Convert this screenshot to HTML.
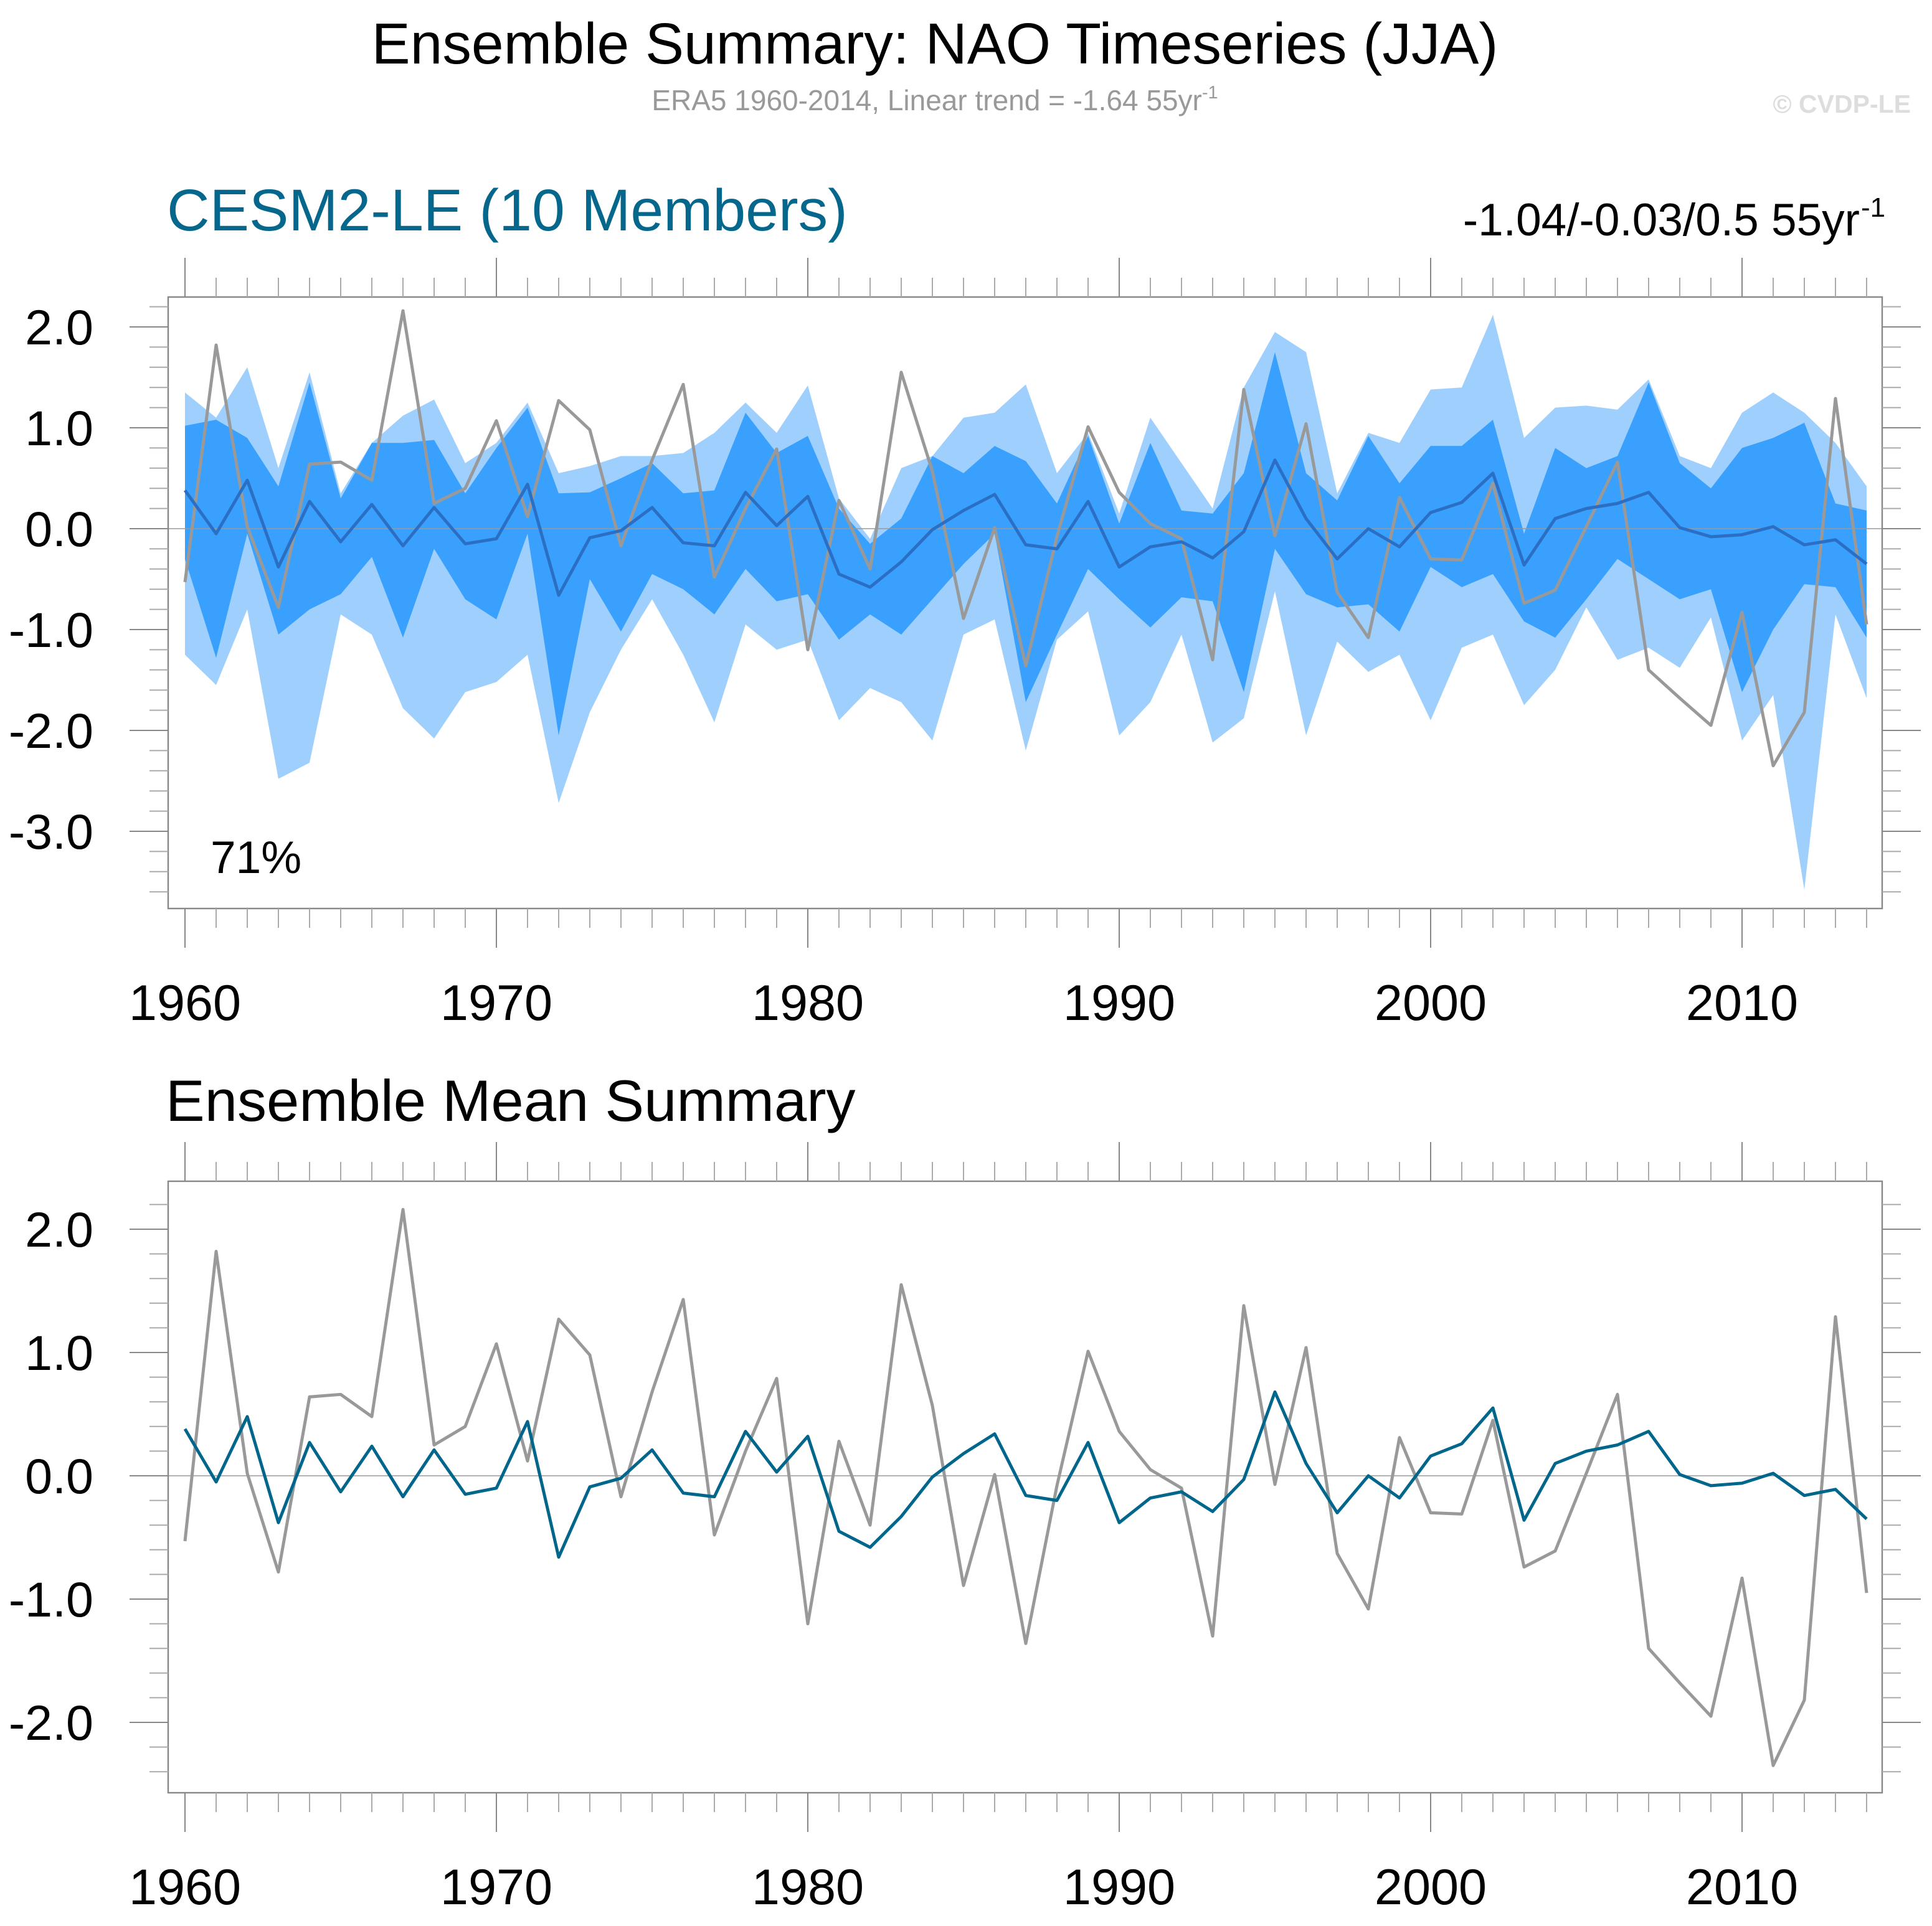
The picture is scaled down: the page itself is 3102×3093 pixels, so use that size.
<!DOCTYPE html>
<html><head><meta charset="utf-8"><style>
html,body{margin:0;padding:0;background:#fff;}
svg{display:block;font-family:"Liberation Sans",sans-serif;}
</style></head><body>
<svg id="chart" width="3102" height="3093" viewBox="0 0 3102 3093" xmlns="http://www.w3.org/2000/svg">
<text x="1501" y="102" font-size="93" text-anchor="middle" fill="#000">Ensemble Summary: NAO Timeseries (JJA)</text>
<text x="1501" y="177" font-size="46" text-anchor="middle" fill="#999">ERA5 1960-2014, Linear trend = -1.64 55yr<tspan font-size="29" dy="-19">-1</tspan></text>
<text x="3068" y="181" font-size="41" font-weight="bold" text-anchor="end" fill="#ddd">© CVDP-LE</text>
<text x="268" y="370" font-size="95" fill="#06678c">CESM2-LE (10 Members)</text>
<text x="2986" y="378" font-size="73" text-anchor="end" fill="#000">-1.04/-0.03/0.5 55yr</text>
<text x="2988" y="348" font-size="44" fill="#000">-1</text>
<text x="266" y="1800" font-size="94" fill="#000">Ensemble Mean Summary</text>
<g id="top"></g>
<g id="bot"></g>
</svg>
<script>
const years = [];for(let y=1960;y<=2014;y++)years.push(y);
const era5 = [-0.53,1.82,0.02,-0.78,0.64,0.66,0.48,2.16,0.25,0.40,1.07,0.12,1.27,0.98,-0.17,0.68,1.43,-0.48,0.20,0.79,-1.20,0.28,-0.40,1.55,0.57,-0.89,0.01,-1.36,-0.08,1.01,0.36,0.05,-0.10,-1.30,1.38,-0.07,1.04,-0.63,-1.08,0.31,-0.30,-0.31,0.45,-0.74,-0.61,0.02,0.66,-1.40,-1.68,-1.95,-0.83,-2.35,-1.82,1.29,-0.95];
const ensMean = [0.38,-0.05,0.48,-0.38,0.27,-0.13,0.24,-0.17,0.21,-0.15,-0.10,0.44,-0.66,-0.09,-0.02,0.21,-0.14,-0.17,0.36,0.03,0.32,-0.45,-0.58,-0.33,-0.01,0.18,0.34,-0.16,-0.20,0.27,-0.38,-0.18,-0.13,-0.29,-0.03,0.68,0.10,-0.30,0.00,-0.18,0.16,0.26,0.55,-0.36,0.10,0.20,0.25,0.36,0.01,-0.08,-0.06,0.02,-0.16,-0.11,-0.35];
const outerMax = [1.35,1.10,1.60,0.60,1.55,0.35,0.85,1.12,1.28,0.65,0.85,1.25,0.55,0.62,0.72,0.72,0.75,0.95,1.25,0.95,1.42,0.30,-0.10,0.60,0.72,1.10,1.15,1.43,0.55,0.95,0.15,1.10,0.65,0.20,1.40,1.95,1.75,0.35,0.95,0.85,1.38,1.40,2.12,0.90,1.20,1.22,1.18,1.48,0.72,0.60,1.15,1.35,1.15,0.85,0.42];
const innerMax = [1.02,1.08,0.90,0.42,1.45,0.30,0.85,0.85,0.88,0.35,0.80,1.20,0.35,0.36,0.50,0.65,0.35,0.38,1.15,0.75,0.92,0.20,-0.15,0.10,0.72,0.55,0.82,0.67,0.25,0.92,0.05,0.85,0.18,0.15,0.55,1.75,0.55,0.28,0.92,0.45,0.82,0.82,1.08,-0.05,0.80,0.60,0.72,1.45,0.65,0.40,0.80,0.90,1.05,0.25,0.18];
const innerMin = [-0.30,-1.28,-0.05,-1.05,-0.80,-0.65,-0.28,-1.08,-0.20,-0.70,-0.90,-0.05,-2.05,-0.50,-1.02,-0.45,-0.60,-0.85,-0.40,-0.72,-0.65,-1.10,-0.85,-1.05,-0.70,-0.35,-0.05,-1.72,-1.05,-0.40,-0.70,-0.98,-0.68,-0.72,-1.62,-0.20,-0.65,-0.78,-0.75,-1.02,-0.38,-0.58,-0.45,-0.92,-1.08,-0.70,-0.30,-0.50,-0.70,-0.60,-1.62,-1.00,-0.55,-0.58,-1.08];
const outerMin = [-1.25,-1.55,-0.80,-2.48,-2.32,-0.85,-1.05,-1.78,-2.08,-1.62,-1.52,-1.25,-2.72,-1.82,-1.20,-0.70,-1.25,-1.92,-0.95,-1.20,-1.10,-1.90,-1.58,-1.72,-2.10,-1.05,-0.90,-2.20,-1.10,-0.82,-2.05,-1.72,-1.05,-2.12,-1.88,-0.62,-2.05,-1.12,-1.42,-1.25,-1.90,-1.18,-1.05,-1.75,-1.40,-0.78,-1.30,-1.18,-1.38,-0.88,-2.10,-1.65,-3.58,-0.85,-1.68];
const topYTicks = [2,1,0,-1,-2,-3];
const botYTicks = [2,1,0,-1,-2];
const xTickLabels = [1960,1970,1980,1990,2000,2010];

const NS="http://www.w3.org/2000/svg";
function mk(parent,tag,attrs){const e=document.createElementNS(NS,tag);for(const k in attrs)e.setAttribute(k,attrs[k]);parent.appendChild(e);return e;}
const X0=270,X1=3022;
function xs(yr){return 297+(yr-1960)*50;}

function drawPanel(g,top,bot,zeroY,perUnit,ticks,name){
  const ys=v=>zeroY-v*perUnit;
  const vmax=(zeroY-top)/perUnit, vmin=(zeroY-bot)/perUnit;
  const fr=mk(g,'rect',{x:X0,y:top,width:X1-X0,height:bot-top,fill:'none',stroke:'#888','stroke-width':2.4});
  
  
  for(let k=Math.ceil(vmin*5);k<=Math.floor(vmax*5);k++){
    const r=k/5;const major=k%5===0;
    const len=major?62:30;const y=ys(r);
    const col=major?'#888':'#aaa';
    const t1=mk(g,'line',{x1:X0-len,x2:X0,y1:y,y2:y,stroke:col,'stroke-width':2});
    
    
    const t2=mk(g,'line',{x1:X1,x2:X1+len,y1:y,y2:y,stroke:col,'stroke-width':2});
    
    
  }
  ticks.forEach(v=>{
    const t=mk(g,'text',{x:150,y:ys(v)+28,'font-size':79,'text-anchor':'end',fill:'#000'});
    t.textContent=v.toFixed(1);
    
    
  });
  years.forEach(yr=>{
    const major=yr%10===0;const len=major?63:31;const x=xs(yr);
    const col=major?'#888':'#aaa';
    const a=mk(g,'line',{x1:x,x2:x,y1:top-len,y2:top,stroke:col,'stroke-width':2});
    
    
    const b=mk(g,'line',{x1:x,x2:x,y1:bot,y2:bot+len,stroke:col,'stroke-width':2});
    
    
  });
  xTickLabels.forEach(yr=>{
    const t=mk(g,'text',{x:xs(yr),y:bot+179,'font-size':81,'text-anchor':'middle',fill:'#000'});
    t.textContent=yr;
    
    
  });
  return ys;
}
function band(g,hi,lo,ys,fill,name){
  let d='';years.forEach((yr,i)=>{d+=(i?'L':'M')+xs(yr)+','+ys(hi[i]);});
  for(let i=years.length-1;i>=0;i--)d+='L'+xs(years[i])+','+ys(lo[i]);
  const p=mk(g,'path',{d:d+'Z',fill:fill,stroke:'none'});
  
  
}
function line(g,vals,ys,color,w,name){
  const pts=years.map((yr,i)=>xs(yr)+','+ys(vals[i])).join(' ');
  const p=mk(g,'polyline',{points:pts,fill:'none',stroke:color,'stroke-width':w,'stroke-linejoin':'round'});
  
  
}
function zero(g,ys,name){
  const z=mk(g,'line',{x1:X0,x2:X1,y1:ys(0),y2:ys(0),stroke:'#999','stroke-width':1.5});
  
  
}
const gt=document.getElementById('top');
const yt=v=>849-v*162;
band(gt,outerMax,outerMin,yt,'#9fd0fd','ensemble-range-band');
band(gt,innerMax,innerMin,yt,'#3aa0fe','ensemble-interquartile-band');
zero(gt,yt,'zero-line-top');
line(gt,era5,yt,'#999',5,'era5-line-top');
line(gt,ensMean,yt,'#2a6fc4',5,'ensemble-mean-line-top');
drawPanel(gt,477,1459,849,162,topYTicks,'top-panel');
const pc=mk(gt,'text',{x:338,y:1402,'font-size':73,fill:'#000'});pc.textContent='71%';



const gb=document.getElementById('bot');
const yb=v=>2370-v*198;
zero(gb,yb,'zero-line-bottom');
line(gb,era5,yb,'#999',5,'era5-line-bottom');
line(gb,ensMean,yb,'#00668c',5,'ensemble-mean-line-bottom');
drawPanel(gb,1897,2879,2370,198,botYTicks,'bottom-panel');
</script>
</body></html>
